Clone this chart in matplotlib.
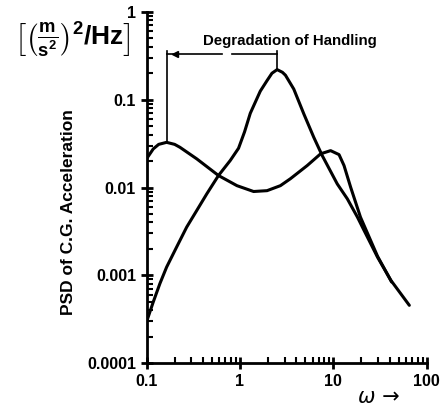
import numpy as np
import matplotlib.pyplot as plt

plt.rcParams['font.family'] = ['Liberation Sans', 'DejaVu Sans']
plt.rcParams['mathtext.fontset'] = 'custom'
plt.rcParams['mathtext.rm'] = 'Liberation Sans:bold'
plt.rcParams['mathtext.it'] = 'Liberation Sans:bold'
plt.rcParams['mathtext.bf'] = 'Liberation Sans:bold'

# two-humped curve
w_a = [0.1, 0.118, 0.135, 0.164, 0.2, 0.228, 0.345, 0.589, 0.929, 1.40, 1.95,
       2.71, 3.47, 5.25, 7.3, 9.34, 11.5, 13.0, 15.3, 19.5, 29.7, 42]
psd_a = [0.0212, 0.0275, 0.031, 0.0327, 0.031, 0.0287, 0.0212, 0.0137, 0.0105,
         0.00901, 0.00921, 0.0105, 0.0126, 0.0178, 0.0242, 0.0263, 0.0237,
         0.0178, 0.0101, 0.0046, 0.00165, 0.00084]

# single peak curve
w_b = [0.1, 0.118, 0.139, 0.164, 0.21, 0.269, 0.345, 0.442, 0.589, 0.787, 0.966,
       1.12, 1.29, 1.65, 1.95, 2.2, 2.5, 2.85, 3.07, 3.77, 4.83, 6.17, 7.6, 11.0,
       14.1, 18.1, 21.3, 29.7, 41.3, 65]
psd_b = [0.000295, 0.000497, 0.000805, 0.00124, 0.0021, 0.00354, 0.00548,
         0.00848, 0.0137, 0.0203, 0.028, 0.043, 0.07, 0.125, 0.165, 0.2, 0.22,
         0.205, 0.19, 0.132, 0.0688, 0.0373, 0.0231, 0.011, 0.00744, 0.0046,
         0.00325, 0.00161, 0.000877, 0.000456]

xticks = [0.1, 1, 10, 100]
xlabels = ['0.1', '1', '10', '100']
yticks = [0.0001, 0.001, 0.01, 0.1, 1]
ylabels = ['0.0001', '0.001', '0.01', '0.1', '1']

fig = plt.figure(figsize=(4.4, 4.09), dpi=100)
ax = fig.add_axes([0.333, 0.112, 0.637, 0.859])

ax.plot(w_a, psd_a, color='black', lw=2.2, solid_capstyle='round',
        solid_joinstyle='round')
ax.plot(w_b, psd_b, color='black', lw=2.2, solid_capstyle='round',
        solid_joinstyle='round')

# degradation annotation
top = 0.33
ax.plot([0.165, 0.165], [0.0327, 0.36], color='black', lw=1.2)
ax.plot([2.5, 2.5], [0.22, 0.36], color='black', lw=1.2)
ax.plot([0.165, 0.64], [top, top], color='black', lw=1.2)
ax.plot([0.82, 2.5], [top, top], color='black', lw=1.2)
ax.plot([0.2], [top], marker='<', color='black', markersize=5)
ax.text(3.4, 0.47, 'Degradation of Handling', ha='center', va='center',
        fontsize=10.8, fontweight='bold')

ax.set_xscale('log')
ax.set_yscale('log')
ax.set_xlim(0.1, 100)
ax.set_ylim(0.0001, 1)
ax.set_xticks(xticks)
ax.set_xticklabels(xlabels)
ax.set_yticks(yticks)
ax.set_yticklabels(ylabels)

for s in ['top', 'right']:
    ax.spines[s].set_visible(False)
for s in ['left', 'bottom']:
    ax.spines[s].set_linewidth(2)

ax.tick_params(which='major', direction='inout', length=8, width=2,
               labelsize=11.5)
ax.tick_params(which='minor', direction='in', length=4, width=1.5)
for lab in ax.get_xticklabels() + ax.get_yticklabels():
    lab.set_fontweight('bold')

fig.text(0.155, 0.482, 'PSD of C.G. Acceleration', rotation=90, ha='center',
         va='center', fontsize=12.5, fontweight='bold')
fig.text(0.164, 0.902, r'$\left[\left(\frac{m}{s^2}\right)^2/Hz\right]$',
         ha='center', va='center', fontsize=19)
fig.text(0.86, 0.03, '\u03c9 \u2192', ha='center', va='center',
         fontsize=15, style='italic', family='DejaVu Sans')

fig.savefig('out.png', dpi=100)
